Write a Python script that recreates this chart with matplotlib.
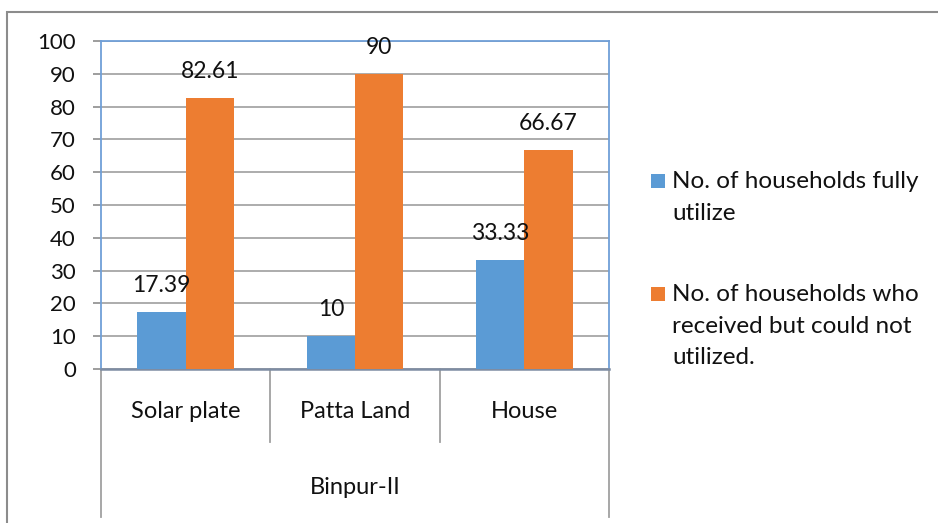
import numpy as np
import matplotlib.pyplot as plt
from matplotlib.patches import Rectangle
from matplotlib.lines import Line2D

categories = ["Solar plate", "Patta Land", "House"]
group_label = "Binpur-II"
fully_utilize = [17.39, 10, 33.33]
not_utilized = [82.61, 90, 66.67]
series_names = ["No. of households fully\nutilize",
                "No. of households who\nreceived but could not\nutilized."]
label_fully = ["17.39", "10", "33.33"]
label_not = ["82.61", "90", "66.67"]

blue = "#5B9BD5"
orange = "#ED7D31"

plt.rcParams['font.family'] = ['Lato', 'DejaVu Sans']

W, H = 938, 523
fig = plt.figure(figsize=(W / 100, H / 100), dpi=100)

def fx(px):
    return px / W

def fy(py):
    return 1 - py / H

# outer chart frame
fig.add_artist(Rectangle((fx(7), fy(600)), 2, fy(12) - fy(600), transform=fig.transFigure,
                         fill=False, edgecolor="#8C8C8C", linewidth=1.5))

left, right, top, bottom = 101, 609, 41, 369
ax = fig.add_axes([fx(left), fy(bottom), fx(right) - fx(left), fy(top) - fy(bottom)])

x = np.arange(len(categories))
bw = 0.285
b1 = ax.bar(x - bw / 2, fully_utilize, bw, color=blue, zorder=3)
b2 = ax.bar(x + bw / 2, not_utilized, bw, color=orange, zorder=3)

for rect, txt in zip(b1, label_fully):
    ax.annotate(txt, (rect.get_x() + rect.get_width() / 2, rect.get_height()),
                xytext=(0, 19), textcoords='offset points', ha='center', va='center',
                fontsize=16.5, color="#111111")
for rect, txt in zip(b2, label_not):
    ax.annotate(txt, (rect.get_x() + rect.get_width() / 2, rect.get_height()),
                xytext=(0, 19), textcoords='offset points', ha='center', va='center',
                fontsize=16.5, color="#111111")

ax.set_xlim(-0.5, len(categories) - 0.5)
ax.set_ylim(0, 100)
ax.set_yticks(np.arange(0, 101, 10))
ax.yaxis.grid(True, color="#A6A6A6", linewidth=1.3, zorder=0)
ax.set_axisbelow(True)
ax.tick_params(axis='y', length=6, width=1.2, color="#8C8C8C", pad=12, labelsize=16,
               labelcolor="#111111")
ax.set_xticks([])
for s in ['top', 'right', 'left']:
    ax.spines[s].set_color("#6F9FD8")
    ax.spines[s].set_linewidth(1.3)
ax.spines['bottom'].set_color("#7D8CA3")
ax.spines['bottom'].set_linewidth(1.8)

# multi-level category axis
for i, cat in enumerate(categories):
    ax.text(i, -0.13, cat, transform=ax.get_xaxis_transform(), ha='center', va='center',
            fontsize=17, color="#111111")
ax.text((len(categories) - 1) / 2, -0.36, group_label, transform=ax.get_xaxis_transform(),
        ha='center', va='center', fontsize=17, color="#111111")

for k in range(len(categories) + 1):
    xs = k - 0.5
    end = 517 if k in (0, len(categories)) else 442
    ax.add_line(Line2D([xs, xs], [0, (bottom - end) / (bottom - top)],
                       transform=ax.get_xaxis_transform(), color="#A0A0A0",
                       linewidth=1.3, clip_on=False))

# legend
colors = [blue, orange]
ys = [181, 294]
for c, yy, name in zip(colors, ys, series_names):
    fig.add_artist(Rectangle((fx(651), fy(yy + 7)), fx(665) - fx(651), fy(yy - 7) - fy(yy + 7),
                             transform=fig.transFigure, facecolor=c, edgecolor='none'))
    fig.text(fx(672), fy(yy - 10), name, ha='left', va='top', fontsize=17.5,
             color="#111111", linespacing=1.62)

fig.savefig("out.png", dpi=100)
